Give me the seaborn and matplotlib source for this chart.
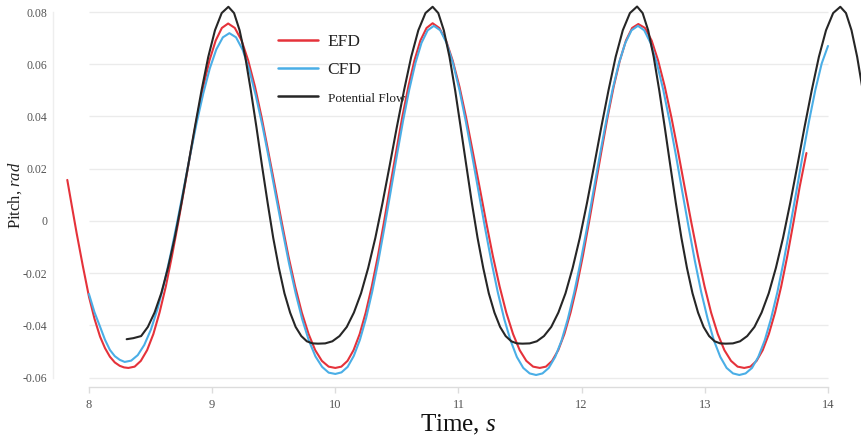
import numpy as np
import pandas as pd
import matplotlib
matplotlib.use("Agg")
import matplotlib.pyplot as plt
import seaborn as sns

# ---------------- data ----------------
efd_t = [7.824, 7.86, 7.90, 7.95, 8.00, 8.045, 8.09, 8.13, 8.17, 8.21, 8.25, 8.285,
         8.32, 8.371, 8.421, 8.472, 8.523, 8.573, 8.624, 8.674, 8.725, 8.776, 8.826, 8.877,
         8.928, 8.978, 9.029, 9.079, 9.13,
         9.184, 9.239, 9.293, 9.348, 9.402, 9.456, 9.511, 9.565, 9.619, 9.674, 9.728, 9.783,
         9.837, 9.891, 9.946, 10.00,
         10.049, 10.099, 10.148, 10.198, 10.247, 10.296, 10.346, 10.395, 10.444, 10.494,
         10.543, 10.593, 10.642, 10.691, 10.741, 10.79,
         10.844, 10.899, 10.953, 11.008, 11.062, 11.116, 11.171, 11.225, 11.279, 11.334,
         11.388, 11.443, 11.497, 11.551, 11.606, 11.66,
         11.71, 11.76, 11.81, 11.86, 11.91, 11.96, 12.01, 12.06, 12.11, 12.16, 12.21, 12.26,
         12.31, 12.36, 12.41, 12.46,
         12.514, 12.568, 12.621, 12.675, 12.729, 12.783, 12.836, 12.89, 12.944, 12.998,
         13.051, 13.105, 13.159, 13.213, 13.266, 13.32,
         13.37, 13.42, 13.47, 13.52, 13.57, 13.62, 13.67, 13.72, 13.77, 13.825]
efd_v = [0.0157, 0.0060, -0.0047, -0.0172, -0.0290, -0.0375, -0.0443, -0.0487, -0.0520, -0.0542, -0.0555, -0.0561,
         -0.0563, -0.0558, -0.0536, -0.0495, -0.0433, -0.0351, -0.0251, -0.0134, -0.0005, 0.0130, 0.0265, 0.0396,
         0.0514, 0.0614, 0.0691, 0.0739, 0.0756,
         0.0739, 0.0691, 0.0614, 0.0514, 0.0396, 0.0265, 0.0130, -0.0005, -0.0134, -0.0251, -0.0351, -0.0433,
         -0.0495, -0.0536, -0.0558, -0.0563,
         -0.0558, -0.0536, -0.0495, -0.0433, -0.0351, -0.0251, -0.0134, -0.0005, 0.0130, 0.0265,
         0.0396, 0.0514, 0.0614, 0.0691, 0.0739, 0.0757,
         0.0739, 0.0691, 0.0614, 0.0514, 0.0396, 0.0265, 0.0130, -0.0005, -0.0134, -0.0251,
         -0.0351, -0.0433, -0.0495, -0.0536, -0.0558, -0.0563,
         -0.0558, -0.0536, -0.0495, -0.0433, -0.0351, -0.0251, -0.0134, -0.0005, 0.0130, 0.0265, 0.0396, 0.0514,
         0.0614, 0.0691, 0.0739, 0.0754,
         0.0739, 0.0691, 0.0614, 0.0514, 0.0396, 0.0265, 0.0130, -0.0005, -0.0134, -0.0251,
         -0.0351, -0.0433, -0.0495, -0.0536, -0.0558, -0.0563,
         -0.0558, -0.0536, -0.0495, -0.0433, -0.0351, -0.0251, -0.0134, -0.0005, 0.0130, 0.0260]

cfd_t = [8.00, 8.045, 8.09, 8.13, 8.17, 8.21, 8.25,
         8.29, 8.343, 8.396, 8.449, 8.503, 8.556, 8.609, 8.662, 8.715, 8.768, 8.821, 8.874,
         8.928, 8.981, 9.034, 9.087, 9.14,
         9.194, 9.248, 9.301, 9.355, 9.409, 9.463, 9.516, 9.57, 9.624, 9.678, 9.731, 9.785,
         9.839, 9.893, 9.946, 10.00,
         10.05, 10.10, 10.15, 10.20, 10.25, 10.30, 10.35, 10.40, 10.45, 10.50, 10.55, 10.60,
         10.65, 10.70, 10.75, 10.80,
         10.852, 10.904, 10.956, 11.008, 11.059, 11.111, 11.163, 11.215, 11.267, 11.319,
         11.371, 11.423, 11.474, 11.526, 11.578, 11.63,
         11.682, 11.733, 11.785, 11.837, 11.888, 11.94, 11.992, 12.044, 12.095, 12.147,
         12.199, 12.25, 12.302, 12.354, 12.405, 12.457,
         12.508, 12.56, 12.611, 12.663, 12.714, 12.766, 12.817, 12.869, 12.92, 12.971,
         13.023, 13.074, 13.126, 13.177, 13.229, 13.28,
         13.331, 13.383, 13.434, 13.486, 13.537, 13.589, 13.64, 13.691, 13.743, 13.794,
         13.846, 13.897, 13.949, 14.00]
cfd_v = [-0.0280, -0.0350, -0.0405, -0.0455, -0.0494, -0.0518, -0.0532,
         -0.0540, -0.0535, -0.0514, -0.0475, -0.0416, -0.0338, -0.0242, -0.0130, -0.0008, 0.0121, 0.0251, 0.0375,
         0.0488, 0.0584, 0.0657, 0.0703, 0.0719,
         0.0703, 0.0655, 0.0579, 0.0479, 0.0363, 0.0234, 0.0099, -0.0034, -0.0162, -0.0277, -0.0376, -0.0458,
         -0.0519, -0.0559, -0.0581, -0.0586,
         -0.0580, -0.0559, -0.0517, -0.0455, -0.0372, -0.0270, -0.0152, -0.0022, 0.0114, 0.0251, 0.0383, 0.0502,
         0.0604, 0.0682, 0.0730, 0.0747,
         0.0730, 0.0681, 0.0603, 0.0501, 0.0382, 0.0250, 0.0112, -0.0025, -0.0155, -0.0273,
         -0.0375, -0.0458, -0.0521, -0.0563, -0.0584, -0.0590,
         -0.0584, -0.0563, -0.0521, -0.0458, -0.0375, -0.0273, -0.0155, -0.0025, 0.0112, 0.0250,
         0.0382, 0.0501, 0.0603, 0.0681, 0.0730, 0.0747,
         0.0730, 0.0681, 0.0603, 0.0501, 0.0382, 0.0250, 0.0112, -0.0025, -0.0155, -0.0273,
         -0.0375, -0.0458, -0.0521, -0.0563, -0.0584, -0.0590,
         -0.0584, -0.0563, -0.0521, -0.0458, -0.0375, -0.0273, -0.0155, -0.0025, 0.0112, 0.0250,
         0.0382, 0.0501, 0.0603, 0.0670]

pf_t = [8.306, 8.36, 8.4235, 8.478, 8.5325, 8.587, 8.6415, 8.696, 8.7505, 8.805, 8.8595, 8.914,
        8.9685, 9.023, 9.0775, 9.132,
        9.178, 9.223, 9.269, 9.314, 9.36, 9.405, 9.451, 9.496, 9.542, 9.587, 9.633, 9.678,
        9.724, 9.769, 9.815, 9.86,
        9.918, 9.976, 10.034, 10.093, 10.151, 10.209, 10.267, 10.325, 10.383, 10.441, 10.499,
        10.558, 10.616, 10.674, 10.732, 10.79,
        10.836, 10.881, 10.927, 10.973, 11.018, 11.064, 11.109, 11.155, 11.201, 11.246, 11.292,
        11.338, 11.383, 11.429, 11.474, 11.52,
        11.578, 11.636, 11.694, 11.753, 11.811, 11.869, 11.927, 11.985, 12.043, 12.101, 12.159,
        12.218, 12.276, 12.334, 12.392, 12.45,
        12.495, 12.54, 12.585, 12.63, 12.675, 12.72, 12.765, 12.81, 12.855, 12.90, 12.945,
        12.99, 13.035, 13.08, 13.125, 13.17,
        13.228, 13.286, 13.344, 13.403, 13.461, 13.519, 13.577, 13.635, 13.693, 13.751, 13.809,
        13.868, 13.926, 13.984, 14.042, 14.10,
        14.146, 14.191, 14.237, 14.282]
pf_v = [-0.0453, -0.0449, -0.0441, -0.0406, -0.0351, -0.0277, -0.0180, -0.0065, 0.0068, 0.0211, 0.0358, 0.0500,
        0.0628, 0.0730, 0.0796, 0.0820,
        0.0796, 0.0730, 0.0628, 0.0500, 0.0358, 0.0211, 0.0068, -0.0065, -0.0180, -0.0277, -0.0351, -0.0406,
        -0.0441, -0.0461, -0.0469, -0.0470,
        -0.0469, -0.0461, -0.0441, -0.0406, -0.0351, -0.0277, -0.0180, -0.0065, 0.0068, 0.0211, 0.0358,
        0.0500, 0.0628, 0.0730, 0.0796, 0.0820,
        0.0796, 0.0730, 0.0628, 0.0500, 0.0358, 0.0211, 0.0068, -0.0065, -0.0180, -0.0277, -0.0351,
        -0.0406, -0.0441, -0.0461, -0.0469, -0.0470,
        -0.0469, -0.0461, -0.0441, -0.0406, -0.0351, -0.0277, -0.0180, -0.0065, 0.0068, 0.0211, 0.0358,
        0.0500, 0.0628, 0.0730, 0.0796, 0.0821,
        0.0796, 0.0730, 0.0628, 0.0500, 0.0358, 0.0211, 0.0068, -0.0065, -0.0180, -0.0277, -0.0351,
        -0.0406, -0.0441, -0.0461, -0.0469, -0.0470,
        -0.0469, -0.0461, -0.0441, -0.0406, -0.0351, -0.0277, -0.0180, -0.0065, 0.0068, 0.0211, 0.0358,
        0.0500, 0.0628, 0.0730, 0.0796, 0.0820,
        0.0796, 0.0730, 0.0628, 0.0500]

x_ticks = [8, 9, 10, 11, 12, 13, 14]
y_ticks = [-0.06, -0.04, -0.02, 0, 0.02, 0.04, 0.06, 0.08]
y_tick_labels = ["-0.06", "-0.04", "-0.02", "0", "0.02", "0.04", "0.06", "0.08"]

series_names = ["EFD", "CFD", "Potential Flow"]
series_colors = ["#e5323a", "#4aaee6", "#262626"]

# ---------------- styling ----------------
sns.set_theme(style="white")
plt.rcParams["font.family"] = ["Liberation Serif", "DejaVu Serif"]
plt.rcParams["mathtext.fontset"] = "custom"
plt.rcParams["mathtext.rm"] = "Liberation Serif"
plt.rcParams["mathtext.it"] = "Liberation Serif:italic"
plt.rcParams["lines.solid_joinstyle"] = "round"
plt.rcParams["lines.solid_capstyle"] = "round"

fig = plt.figure(figsize=(8.61, 4.38), dpi=100)
ax = fig.add_axes([53 / 861, 51 / 438, 808 / 861, 387 / 438])

ax.set_xlim(7.708, 14.268)
ax.set_ylim(-0.0636, 0.0846)

# grid lines only across the 8..14 span
ax.hlines(y_ticks, x_ticks[0], x_ticks[-1], colors="#ebebeb", linewidth=1.0, zorder=0)

frames = [
    pd.DataFrame({"t": efd_t, "v": efd_v}),
    pd.DataFrame({"t": cfd_t, "v": cfd_v}),
    pd.DataFrame({"t": pf_t, "v": pf_v}),
]
for df, name, col in zip(frames, series_names, series_colors):
    sns.lineplot(data=df, x="t", y="v", ax=ax, color=col, linewidth=1.5,
                 estimator=None, sort=False, label=name)

for s in ["top", "right"]:
    ax.spines[s].set_visible(False)
ax.spines["bottom"].set_bounds(x_ticks[0], x_ticks[-1])
ax.spines["bottom"].set_color("#dcdcdc")
ax.spines["bottom"].set_linewidth(1.0)
ax.spines["left"].set_bounds(y_ticks[0], y_ticks[-1])
ax.spines["left"].set_color("#eeeeee")
ax.spines["left"].set_linewidth(1.0)

ax.set_xticks(x_ticks)
ax.set_xticklabels([str(v) for v in x_ticks])
ax.set_yticks(y_ticks)
ax.set_yticklabels(y_tick_labels)
ax.tick_params(axis="x", direction="out", length=4, width=1, color="#dcdcdc",
               labelcolor="#555555", labelsize=9, pad=5, bottom=True)
ax.tick_params(axis="y", length=0, labelcolor="#555555", labelsize=8.5, pad=4, left=True)

ax.set_xlabel("Time, $\\it{s}$", fontsize=18, color="#111111")
ax.xaxis.set_label_coords(0.501, -0.068)
ax.set_ylabel("Pitch, $\\it{rad}$", fontsize=12, color="#222222")
ax.yaxis.set_label_coords(-0.036, 0.496)

leg = ax.legend(loc="upper left", bbox_to_anchor=(0.278, 0.912), frameon=False,
                fontsize=12, handlelength=2.4, handletextpad=0.6,
                labelspacing=0.72, borderpad=0, borderaxespad=0)
for txt, fs in zip(leg.get_texts(), [12.5, 12.5, 9.5]):
    txt.set_fontsize(fs)
    txt.set_color("#222222")
for ln in leg.get_lines():
    ln.set_linewidth(1.8)

fig.savefig("out.png", dpi=100)
